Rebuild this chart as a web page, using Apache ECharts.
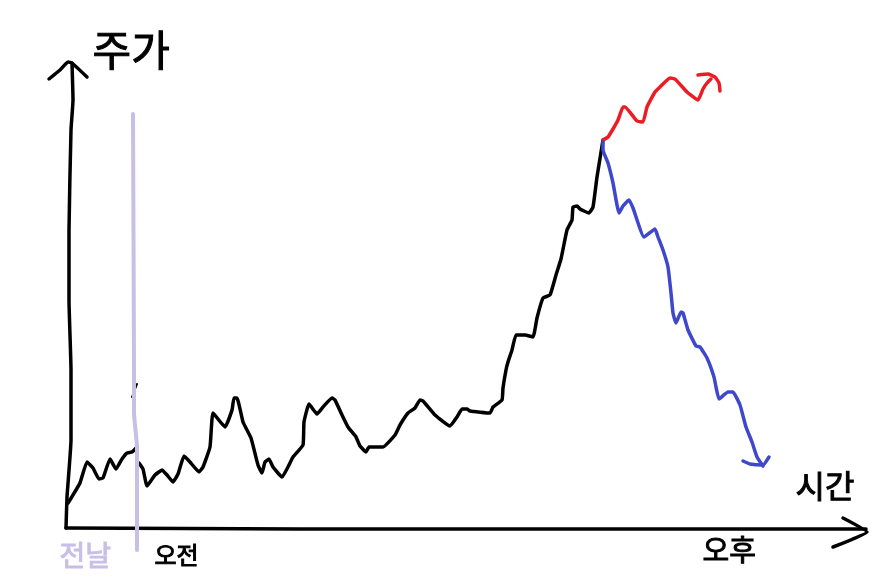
<!DOCTYPE html>
<html><head><meta charset="utf-8">
<style>html,body{margin:0;padding:0;background:#fff}#c{width:879px;height:582px}</style>
<script src="https://cdn.jsdelivr.net/npm/echarts@6/dist/echarts.min.js"></script>
</head><body><div id="c"></div>
<script>
const priceAxisStroke=[[66,528],[67,497],[71,440],[71,370],[69,300],[69,230],[71,130],[73,100],[72,63]];
const priceAxisHead=[[49,79],[60,70],[68,62],[72,63],[87,77]];
const timeAxisStroke=[[66,528],[300,529],[600,529],[866,529]];
const timeAxisHead=[[843,518],[867,532],[833,547]];
const previousDayPrice=[[68,503],[73,495],[80,483],[87,462],[93,468],[99,479],[103,478],[110,459],[116,469],[122,459],[127,453],[132,452],[137,447]];
const gapMark=[[132,397],[137,384]];
const morningPrice=[[139,463],[143,469],[147,486],[155,475],[162,470],[167,475],[173,482],[178,474],[184,456],[190,462],[199,472],[203,467],[210,447],[213,413],[225,427],[232,410],[234,398],[237,398],[243,422],[251,438],[258,465],[262,473],[265,462],[269,459],[273,467],[282,477],[293,457],[303,445],[304,422],[309,404],[317,414],[323,407],[332,398],[335,400],[342,415],[348,427],[356,437],[360,446],[366,452],[369,447],[383,447],[395,435],[400,425],[408,413],[415,408],[420,400],[423,401],[435,415],[450,426],[457,417],[462,409],[467,409],[470,411],[490,413],[493,407],[502,400],[503,388],[506,370],[508,362],[512,350],[516,335],[525,335],[533,337],[537,318],[543,298],[550,295],[556,275],[561,259],[567,230],[572,220],[573,207],[577,206],[580,209],[589,213],[593,207],[597,177],[603,140]];
const risingPrice=[[603,140],[608,137],[613,129],[618,120],[623,107],[625,107],[637,121],[643,122],[647,107],[655,92],[660,87],[670,78],[675,79],[687,92],[698,100],[703,89],[707,83],[711,79]];
const risingArrow=[[698,75],[708,74],[715,77],[719,83],[720,91]];
const fallingPrice=[[603,142],[603,150],[608,163],[613,183],[619,213],[623,206],[629,200],[633,208],[644,237],[655,229],[658,237],[663,250],[668,267],[671,293],[673,313],[676,323],[681,312],[683,313],[688,330],[696,346],[700,347],[707,358],[714,377],[716,387],[719,399],[728,392],[733,392],[740,405],[746,427],[752,442],[757,457],[763,466]];
const fallingArrow=[[743,461],[750,464],[763,465],[769,457]];
const dayBoundary=[[133,114],[134,370],[134,413],[137,447],[137,550]];
const labels=['주가','시간','전날','오전','오후'];

const BLACK='#000',RED='#ed1c24',BLUE='#3f48cc',LAV='#c8bfe7';
const stroke=(data,color,width,z)=>({type:'line',data,showSymbol:false,symbol:'none',smooth:0.12,z:z||2,silent:true,
  lineStyle:{color,width:width,cap:'round',join:'round'}});
const txt=(i,left,top,size,color)=>({type:'text',left,top,silent:true,z:10,
  style:{text:labels[i],fontFamily:'"Noto Sans CJK KR"',fontSize:size,fill:color,stroke:color,lineWidth:1}});
const chart=echarts.init(document.getElementById('c'),null,{renderer:'canvas'});
chart.setOption({
  animation:false,backgroundColor:'#fff',
  grid:{left:0,right:0,top:0,bottom:0},
  xAxis:{type:'value',min:0,max:879,show:false},
  yAxis:{type:'value',min:0,max:582,inverse:true,show:false},
  series:[
    stroke(gapMark,BLACK,2,1),
    stroke(priceAxisStroke,BLACK,3.5),stroke(priceAxisHead,BLACK,3.5),
    stroke(timeAxisStroke,BLACK,3.5),stroke(timeAxisHead,BLACK,3.5),
    stroke(previousDayPrice,BLACK,3.5),stroke(morningPrice,BLACK,3.5),
    stroke(dayBoundary,LAV,4,3),
    stroke(risingPrice,RED,3.5),stroke(risingArrow,RED,3.5),
    stroke(fallingPrice,BLUE,3.5,4),stroke(fallingArrow,BLUE,3.5,4)
  ],
  graphic:[
    txt(0,92,29,42,BLACK),
    txt(1,795,469,32,BLACK),
    txt(2,59,541,28,LAV),
    txt(3,154,542,24,BLACK),
    txt(4,702,535,29,BLACK)
  ]
});
</script></body></html>
